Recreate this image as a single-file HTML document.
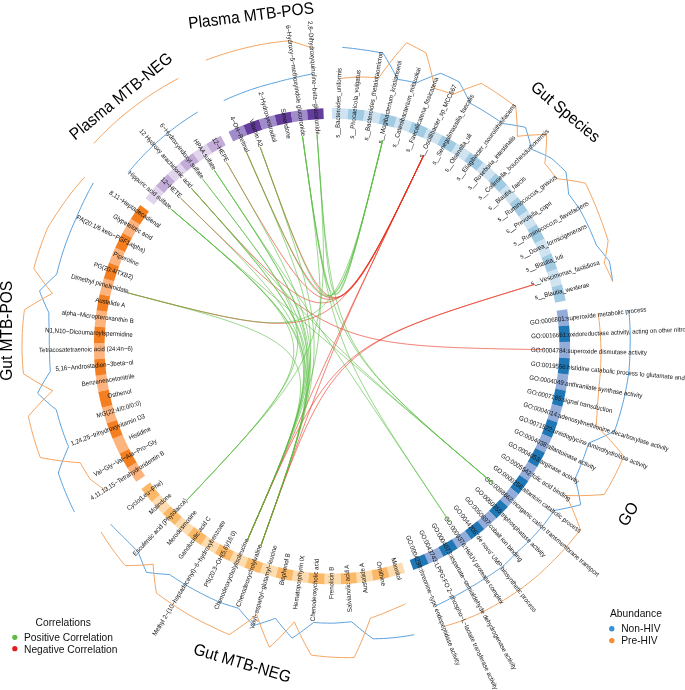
<!DOCTYPE html>
<html><head><meta charset="utf-8"><style>
html,body{margin:0;padding:0;background:#fff;}
svg{display:block;will-change:transform;}
text{font-family:"Liberation Sans",sans-serif;}
</style></head><body>
<svg width="685" height="690" viewBox="0 0 685 690">
<rect width="685" height="690" fill="#fff"/>
<g><path d="M332.00,108.10A238.1,238.1 0 0 1 348.48,108.67L347.74,119.35A227.4,227.4 0 0 0 332.00,118.80Z" fill="#cfe3f0"/><path d="M348.31,108.66A238.1,238.1 0 0 1 364.79,110.37L363.32,120.97A227.4,227.4 0 0 0 347.58,119.33Z" fill="#a1cae3"/><path d="M364.63,110.35A238.1,238.1 0 0 1 380.95,113.19L378.75,123.66A227.4,227.4 0 0 0 363.16,120.95Z" fill="#cfe3f0"/><path d="M380.79,113.15A238.1,238.1 0 0 1 396.88,117.11L393.96,127.40A227.4,227.4 0 0 0 378.60,123.63Z" fill="#a1cae3"/><path d="M396.72,117.06A238.1,238.1 0 0 1 412.50,122.12L408.88,132.19A227.4,227.4 0 0 0 393.81,127.36Z" fill="#cfe3f0"/><path d="M412.34,122.06A238.1,238.1 0 0 1 427.73,128.19L423.43,137.99A227.4,227.4 0 0 0 408.73,132.14Z" fill="#a1cae3"/><path d="M427.58,128.13A238.1,238.1 0 0 1 442.52,135.30L437.55,144.78A227.4,227.4 0 0 0 423.29,137.93Z" fill="#cfe3f0"/><path d="M442.37,135.23A238.1,238.1 0 0 1 456.78,143.41L451.17,152.53A227.4,227.4 0 0 0 437.41,144.71Z" fill="#a1cae3"/><path d="M456.63,143.33A238.1,238.1 0 0 1 470.44,152.48L464.22,161.19A227.4,227.4 0 0 0 451.03,152.44Z" fill="#cfe3f0"/><path d="M470.31,152.39A238.1,238.1 0 0 1 483.45,162.48L476.64,170.73A227.4,227.4 0 0 0 464.09,161.10Z" fill="#a1cae3"/><path d="M483.32,162.37A238.1,238.1 0 0 1 495.74,173.34L488.38,181.11A227.4,227.4 0 0 0 476.52,170.63Z" fill="#cfe3f0"/><path d="M495.62,173.23A238.1,238.1 0 0 1 507.25,185.02L499.38,192.27A227.4,227.4 0 0 0 488.27,181.00Z" fill="#a1cae3"/><path d="M507.14,184.90A238.1,238.1 0 0 1 517.93,197.47L509.58,204.16A227.4,227.4 0 0 0 499.27,192.15Z" fill="#cfe3f0"/><path d="M517.83,197.34A238.1,238.1 0 0 1 527.73,210.63L518.94,216.72A227.4,227.4 0 0 0 509.48,204.03Z" fill="#a1cae3"/><path d="M527.64,210.49A238.1,238.1 0 0 1 536.60,224.43L527.41,229.90A227.4,227.4 0 0 0 518.85,216.59Z" fill="#cfe3f0"/><path d="M536.52,224.28A238.1,238.1 0 0 1 544.50,238.80L534.95,243.63A227.4,227.4 0 0 0 527.33,229.76Z" fill="#a1cae3"/><path d="M544.43,238.65A238.1,238.1 0 0 1 551.39,253.69L541.53,257.84A227.4,227.4 0 0 0 534.88,243.49Z" fill="#cfe3f0"/><path d="M551.33,253.53A238.1,238.1 0 0 1 557.24,269.01L547.12,272.48A227.4,227.4 0 0 0 541.47,257.70Z" fill="#a1cae3"/><path d="M557.19,268.86A238.1,238.1 0 0 1 562.02,284.70L551.68,287.47A227.4,227.4 0 0 0 547.07,272.33Z" fill="#cfe3f0"/><path d="M561.98,284.54A238.1,238.1 0 0 1 565.69,300.61L555.19,302.65A227.4,227.4 0 0 0 551.64,287.31Z" fill="#a1cae3"/><path d="M567.21,309.20A238.1,238.1 0 0 1 569.20,325.56L558.54,326.49A227.4,227.4 0 0 0 556.64,310.86Z" fill="#93acd9"/><path d="M569.19,325.40A238.1,238.1 0 0 1 570.06,341.94L559.36,342.14A227.4,227.4 0 0 0 558.53,326.33Z" fill="#1f77b5"/><path d="M570.06,341.78A238.1,238.1 0 0 1 569.79,358.35L559.10,357.80A227.4,227.4 0 0 0 559.36,341.98Z" fill="#93acd9"/><path d="M569.80,358.18A238.1,238.1 0 0 1 568.39,374.69L557.77,373.41A227.4,227.4 0 0 0 559.11,357.64Z" fill="#1f77b5"/><path d="M568.41,374.52A238.1,238.1 0 0 1 565.87,390.90L555.36,388.89A227.4,227.4 0 0 0 557.79,373.25Z" fill="#93acd9"/><path d="M565.90,390.73A238.1,238.1 0 0 1 562.23,406.89L551.89,404.17A227.4,227.4 0 0 0 555.39,388.73Z" fill="#1f77b5"/><path d="M562.28,406.73A238.1,238.1 0 0 1 557.51,422.60L547.38,419.17A227.4,227.4 0 0 0 551.93,404.01Z" fill="#93acd9"/><path d="M557.56,422.44A238.1,238.1 0 0 1 551.71,437.95L541.84,433.82A227.4,227.4 0 0 0 547.43,419.02Z" fill="#1f77b5"/><path d="M551.78,437.79A238.1,238.1 0 0 1 544.88,452.86L535.31,448.06A227.4,227.4 0 0 0 541.90,433.68Z" fill="#93acd9"/><path d="M544.95,452.71A238.1,238.1 0 0 1 537.03,467.26L527.81,461.82A227.4,227.4 0 0 0 535.38,447.92Z" fill="#1f77b5"/><path d="M537.11,467.12A238.1,238.1 0 0 1 528.21,481.09L519.39,475.03A227.4,227.4 0 0 0 527.89,461.68Z" fill="#93acd9"/><path d="M528.30,480.95A238.1,238.1 0 0 1 518.45,494.28L510.07,487.62A227.4,227.4 0 0 0 519.48,474.90Z" fill="#1f77b5"/><path d="M518.56,494.15A238.1,238.1 0 0 1 507.82,506.76L499.91,499.55A227.4,227.4 0 0 0 510.17,487.50Z" fill="#93acd9"/><path d="M507.93,506.64A238.1,238.1 0 0 1 496.34,518.49L488.96,510.75A227.4,227.4 0 0 0 500.02,499.43Z" fill="#1f77b5"/><path d="M496.46,518.37A238.1,238.1 0 0 1 484.09,529.39L477.26,521.16A227.4,227.4 0 0 0 489.07,510.64Z" fill="#93acd9"/><path d="M484.22,529.29A238.1,238.1 0 0 1 471.12,539.43L464.86,530.75A227.4,227.4 0 0 0 477.38,521.06Z" fill="#1f77b5"/><path d="M471.25,539.33A238.1,238.1 0 0 1 457.48,548.55L451.84,539.46A227.4,227.4 0 0 0 464.99,530.65Z" fill="#93acd9"/><path d="M457.62,548.46A238.1,238.1 0 0 1 443.25,556.71L438.25,547.25A227.4,227.4 0 0 0 451.98,539.37Z" fill="#1f77b5"/><path d="M443.40,556.63A238.1,238.1 0 0 1 428.49,563.87L424.16,554.09A227.4,227.4 0 0 0 438.39,547.18Z" fill="#93acd9"/><path d="M428.65,563.80A238.1,238.1 0 0 1 413.36,569.97L409.70,559.91A227.4,227.4 0 0 0 424.30,554.02Z" fill="#1f77b5"/><path d="M405.10,572.80A238.1,238.1 0 0 1 389.25,577.32L386.67,566.93A227.4,227.4 0 0 0 401.82,562.62Z" fill="#fddcb0"/><path d="M389.41,577.28A238.1,238.1 0 0 1 373.20,580.71L371.35,570.17A227.4,227.4 0 0 0 386.83,566.89Z" fill="#fbb867"/><path d="M373.36,580.68A238.1,238.1 0 0 1 356.95,582.99L355.83,572.35A227.4,227.4 0 0 0 371.50,570.14Z" fill="#fddcb0"/><path d="M357.12,582.97A238.1,238.1 0 0 1 340.59,584.14L340.21,573.45A227.4,227.4 0 0 0 355.99,572.33Z" fill="#fbb867"/><path d="M340.76,584.14A238.1,238.1 0 0 1 324.19,584.17L324.54,573.48A227.4,227.4 0 0 0 340.36,573.45Z" fill="#fddcb0"/><path d="M324.35,584.18A238.1,238.1 0 0 1 307.82,583.07L308.91,572.42A227.4,227.4 0 0 0 324.70,573.48Z" fill="#fbb867"/><path d="M307.99,583.09A238.1,238.1 0 0 1 291.57,580.84L293.39,570.30A227.4,227.4 0 0 0 309.07,572.44Z" fill="#fddcb0"/><path d="M291.74,580.87A238.1,238.1 0 0 1 275.51,577.50L278.05,567.11A227.4,227.4 0 0 0 293.54,570.32Z" fill="#fbb867"/><path d="M275.67,577.54A238.1,238.1 0 0 1 259.72,573.06L262.97,562.87A227.4,227.4 0 0 0 278.20,567.15Z" fill="#fddcb0"/><path d="M259.88,573.11A238.1,238.1 0 0 1 244.27,567.55L248.21,557.60A227.4,227.4 0 0 0 263.12,562.92Z" fill="#fbb867"/><path d="M244.43,567.61A238.1,238.1 0 0 1 229.24,560.98L233.86,551.33A227.4,227.4 0 0 0 248.36,557.66Z" fill="#fddcb0"/><path d="M229.39,561.06A238.1,238.1 0 0 1 214.70,553.40L219.97,544.09A227.4,227.4 0 0 0 234.00,551.40Z" fill="#fbb867"/><path d="M214.84,553.48A238.1,238.1 0 0 1 200.71,544.83L206.61,535.90A227.4,227.4 0 0 0 220.11,544.17Z" fill="#fddcb0"/><path d="M200.85,544.92A238.1,238.1 0 0 1 187.34,535.32L193.84,526.82A227.4,227.4 0 0 0 206.74,535.99Z" fill="#fbb867"/><path d="M187.48,535.42A238.1,238.1 0 0 1 174.67,524.91L181.74,516.88A227.4,227.4 0 0 0 193.97,526.92Z" fill="#fddcb0"/><path d="M174.79,525.02A238.1,238.1 0 0 1 162.74,513.65L170.34,506.13A227.4,227.4 0 0 0 181.86,516.99Z" fill="#fbb867"/><path d="M162.85,513.77A238.1,238.1 0 0 1 151.61,501.60L159.71,494.62A227.4,227.4 0 0 0 170.45,506.24Z" fill="#fddcb0"/><path d="M151.72,501.73A238.1,238.1 0 0 1 141.39,488.88L149.95,482.47A227.4,227.4 0 0 0 159.82,494.74Z" fill="#fbb867"/><path d="M136.29,481.80A238.1,238.1 0 0 1 127.37,467.93L136.57,462.46A227.4,227.4 0 0 0 145.08,475.71Z" fill="#fcb37d"/><path d="M127.46,468.07A238.1,238.1 0 0 1 119.48,453.55L129.03,448.73A227.4,227.4 0 0 0 136.65,462.60Z" fill="#f47f20"/><path d="M119.55,453.70A238.1,238.1 0 0 1 112.59,438.67L122.45,434.51A227.4,227.4 0 0 0 129.10,448.87Z" fill="#fcb37d"/><path d="M112.65,438.82A238.1,238.1 0 0 1 106.74,423.34L116.87,419.87A227.4,227.4 0 0 0 122.51,434.66Z" fill="#f47f20"/><path d="M106.80,423.50A238.1,238.1 0 0 1 101.97,407.65L112.30,404.89A227.4,227.4 0 0 0 116.92,420.02Z" fill="#fcb37d"/><path d="M102.01,407.81A238.1,238.1 0 0 1 98.28,391.66L108.78,389.62A227.4,227.4 0 0 0 112.34,405.04Z" fill="#f47f20"/><path d="M98.31,391.83A238.1,238.1 0 0 1 95.71,375.46L106.32,374.15A227.4,227.4 0 0 0 108.81,389.78Z" fill="#fcb37d"/><path d="M95.73,375.63A238.1,238.1 0 0 1 94.25,359.13L104.94,358.55A227.4,227.4 0 0 0 106.34,374.31Z" fill="#f47f20"/><path d="M94.26,359.29A238.1,238.1 0 0 1 93.93,342.73L104.62,342.88A227.4,227.4 0 0 0 104.94,358.70Z" fill="#fcb37d"/><path d="M93.92,342.89A238.1,238.1 0 0 1 94.73,326.34L105.39,327.23A227.4,227.4 0 0 0 104.62,343.04Z" fill="#f47f20"/><path d="M94.72,326.51A238.1,238.1 0 0 1 96.66,310.05L107.24,311.68A227.4,227.4 0 0 0 105.38,327.39Z" fill="#fcb37d"/><path d="M96.63,310.22A238.1,238.1 0 0 1 99.71,293.94L110.15,296.28A227.4,227.4 0 0 0 107.21,311.83Z" fill="#f47f20"/><path d="M99.67,294.10A238.1,238.1 0 0 1 103.86,278.07L114.11,281.13A227.4,227.4 0 0 0 110.11,296.44Z" fill="#fcb37d"/><path d="M103.81,278.23A238.1,238.1 0 0 1 109.09,262.52L119.11,266.28A227.4,227.4 0 0 0 114.06,281.28Z" fill="#f47f20"/><path d="M109.03,262.68A238.1,238.1 0 0 1 115.38,247.37L125.11,251.81A227.4,227.4 0 0 0 119.05,266.43Z" fill="#fcb37d"/><path d="M115.31,247.52A238.1,238.1 0 0 1 122.70,232.69L132.10,237.79A227.4,227.4 0 0 0 125.05,251.96Z" fill="#f47f20"/><path d="M122.62,232.84A238.1,238.1 0 0 1 131.01,218.55L140.04,224.29A227.4,227.4 0 0 0 132.03,237.93Z" fill="#fcb37d"/><path d="M130.92,218.69A238.1,238.1 0 0 1 140.23,205.08L148.84,211.42A227.4,227.4 0 0 0 139.96,224.42Z" fill="#f47f20"/><path d="M145.53,198.15A238.1,238.1 0 0 1 156.22,185.60L164.12,192.82A227.4,227.4 0 0 0 153.91,204.80Z" fill="#e0d5ec"/><path d="M156.11,185.72A238.1,238.1 0 0 1 167.69,173.88L175.08,181.62A227.4,227.4 0 0 0 164.01,192.93Z" fill="#c4acd9"/><path d="M167.57,173.99A238.1,238.1 0 0 1 179.95,162.97L186.78,171.21A227.4,227.4 0 0 0 174.96,181.73Z" fill="#e0d5ec"/><path d="M179.82,163.08A238.1,238.1 0 0 1 192.92,152.94L199.17,161.62A227.4,227.4 0 0 0 186.66,171.31Z" fill="#c4acd9"/><path d="M192.79,153.04A238.1,238.1 0 0 1 206.56,143.82L212.20,152.92A227.4,227.4 0 0 0 199.05,161.72Z" fill="#e0d5ec"/><path d="M206.42,143.91A238.1,238.1 0 0 1 220.72,135.71L225.72,145.16A227.4,227.4 0 0 0 212.06,153.00Z" fill="#c4acd9"/><path d="M228.51,131.77A238.1,238.1 0 0 1 243.59,125.12L247.57,135.06A227.4,227.4 0 0 0 233.16,141.41Z" fill="#a08ccb"/><path d="M243.44,125.18A238.1,238.1 0 0 1 259.02,119.56L262.30,129.74A227.4,227.4 0 0 0 247.42,135.12Z" fill="#643c9c"/><path d="M258.87,119.61A238.1,238.1 0 0 1 274.80,115.07L277.37,125.46A227.4,227.4 0 0 0 262.15,129.79Z" fill="#a08ccb"/><path d="M274.64,115.11A238.1,238.1 0 0 1 290.85,111.68L292.70,122.22A227.4,227.4 0 0 0 277.22,125.50Z" fill="#643c9c"/><path d="M290.69,111.71A238.1,238.1 0 0 1 307.10,109.41L308.21,120.05A227.4,227.4 0 0 0 292.54,122.25Z" fill="#a08ccb"/><path d="M306.93,109.42A238.1,238.1 0 0 1 323.37,108.26L323.76,118.95A227.4,227.4 0 0 0 308.06,120.06Z" fill="#643c9c"/><path d="M342.30,47.38 L344.87,47.60 L347.43,47.85 L349.99,48.12 L352.55,48.41 L355.11,48.72 L357.66,49.06 L360.20,49.41 L362.75,49.79 L365.29,50.14 L367.83,50.51 L370.36,50.91 L372.90,51.32 L375.42,51.76 L377.95,52.22 L380.47,52.70 L382.98,53.20 L384.99,56.43 L386.95,59.67 L388.86,62.93 L390.72,66.19 L392.53,69.47 L394.28,72.75 L395.98,76.05 L397.63,79.35 L399.98,79.72 L402.33,80.11 L404.67,80.52 L407.02,80.95 L409.36,81.41 L411.70,81.88 L414.03,82.37 L416.37,82.89 L419.31,81.58 L422.27,80.31 L425.27,79.06 L428.29,77.85 L431.34,76.68 L434.42,75.53 L437.53,74.42 L440.66,73.34 L442.99,74.33 L445.31,75.34 L447.62,76.38 L449.92,77.43 L452.21,78.50 L454.49,79.59 L456.76,80.70 L459.02,81.83 L460.53,84.48 L462.00,87.14 L463.44,89.80 L464.85,92.47 L466.21,95.15 L467.55,97.83 L468.84,100.51 L470.10,103.20 L472.22,104.34 L474.33,105.51 L476.43,106.69 L478.52,107.89 L480.60,109.11 L482.67,110.34 L484.73,111.60 L486.78,112.87 L488.82,114.15 L490.86,115.45 L492.88,116.76 L494.90,118.09 L496.90,119.45 L498.89,120.81 L500.87,122.20 L502.84,123.60 L505.64,123.95 L508.44,124.33 L511.25,124.74 L514.06,125.18 L516.88,125.66 L519.71,126.16 L522.54,126.70 L525.38,127.27 L526.28,130.04 L527.14,132.80 L527.98,135.56 L528.78,138.31 L529.55,141.07 L530.29,143.82 L530.99,146.58 L531.66,149.32 L534.10,150.32 L536.54,151.34 L538.98,152.39 L541.41,153.47 L543.84,154.58 L546.27,155.71 L548.69,156.88 L551.11,158.07 L553.00,159.73 L554.88,161.40 L556.74,163.10 L558.60,164.82 L560.43,166.55 L562.26,168.31 L564.07,170.08 L565.87,171.86 L566.32,174.65 L566.73,177.44 L567.11,180.21 L567.46,182.99 L567.79,185.75 L568.08,188.51 L568.34,191.26 L568.57,194.01 L570.06,195.94 L571.52,197.88 L572.97,199.84 L574.41,201.81 L575.82,203.80 L577.23,205.80 L578.61,207.81 L579.98,209.84 L581.15,211.98 L582.29,214.13 L583.42,216.29 L584.53,218.46 L585.62,220.64 L586.69,222.83 L587.75,225.03 L588.78,227.24 L589.80,229.45 L590.79,231.68 L591.77,233.91 L592.73,236.15 L593.66,238.40 L594.58,240.66 L595.48,242.92 L596.36,245.20 L598.04,247.17 L599.71,249.17 L601.36,251.19 L603.00,253.23 L604.62,255.29 L606.22,257.37 L607.81,259.47 L609.38,261.60 L609.86,264.06 L610.32,266.52 L610.76,268.99 L611.17,271.46 L611.56,273.93 L611.93,276.40 L612.28,278.87 L612.60,281.35" fill="none" stroke="#5aa1dd" stroke-width="1" stroke-linejoin="round"/><path d="M341.23,78.36 L343.55,78.11 L345.88,77.88 L348.21,77.68 L350.55,77.49 L352.88,77.32 L355.23,77.18 L357.58,77.05 L359.93,76.94 L362.27,77.00 L364.61,77.07 L366.95,77.16 L369.30,77.27 L371.64,77.41 L373.99,77.56 L376.33,77.74 L378.68,77.93 L381.89,73.41 L385.18,68.93 L388.55,64.48 L392.00,60.07 L395.54,55.70 L399.15,51.38 L402.84,47.09 L406.61,42.84 L409.09,44.03 L411.55,45.23 L413.99,46.46 L416.42,47.71 L418.83,48.97 L421.23,50.26 L423.61,51.56 L425.98,52.89 L427.30,57.34 L428.56,61.79 L429.74,66.25 L430.86,70.70 L431.91,75.15 L432.88,79.60 L433.79,84.04 L434.63,88.48 L436.94,89.16 L439.24,89.85 L441.54,90.57 L443.83,91.30 L446.12,92.06 L448.40,92.83 L450.68,93.63 L452.95,94.45 L456.39,92.92 L459.85,91.43 L463.35,89.98 L466.89,88.58 L470.46,87.21 L474.06,85.89 L477.70,84.61 L481.36,83.38 L483.60,84.71 L485.83,86.05 L488.05,87.42 L490.25,88.81 L492.44,90.21 L494.62,91.63 L496.79,93.08 L498.94,94.54 L501.09,96.00 L503.22,97.49 L505.34,98.99 L507.45,100.52 L509.55,102.06 L511.63,103.62 L513.70,105.19 L515.75,106.79 L516.13,110.52 L516.45,114.25 L516.73,117.97 L516.96,121.67 L517.13,125.36 L517.26,129.04 L517.34,132.70 L517.37,136.34 L520.96,135.95 L524.58,135.60 L528.22,135.30 L531.87,135.05 L535.55,134.84 L539.24,134.68 L542.95,134.57 L546.68,134.51 L546.61,138.19 L546.50,141.86 L546.33,145.51 L546.12,149.14 L545.86,152.75 L545.56,156.35 L545.21,159.92 L544.82,163.47 L546.36,165.33 L547.89,167.20 L549.41,169.08 L550.91,170.97 L552.39,172.88 L553.85,174.80 L555.30,176.73 L556.73,178.68 L560.28,179.07 L563.85,179.51 L567.42,180.00 L571.00,180.54 L574.59,181.12 L578.18,181.76 L581.78,182.45 L585.39,183.19 L586.55,185.53 L587.68,187.88 L588.78,190.24 L589.87,192.60 L590.94,194.97 L591.98,197.35 L593.00,199.74 L594.00,202.13 L595.01,204.51 L596.00,206.90 L596.97,209.29 L597.92,211.69 L598.84,214.10 L599.74,216.51 L600.62,218.93 L601.48,221.35 L602.39,223.75 L603.27,226.15 L604.14,228.56 L604.98,230.98 L605.80,233.40 L606.60,235.83 L607.38,238.26 L608.13,240.70 L607.74,243.56 L607.32,246.41 L606.88,249.24 L606.40,252.06 L605.90,254.86 L605.37,257.65 L604.81,260.42 L604.22,263.17 L605.33,265.40 L606.43,267.64 L607.50,269.89 L608.56,272.16 L609.60,274.44 L610.62,276.73 L611.62,279.03 L612.60,281.35" fill="none" stroke="#f6a45f" stroke-width="1" stroke-linejoin="round"/><path d="M628.79,309.94 L629.03,312.50 L629.25,315.07 L629.44,317.64 L629.62,320.20 L629.77,322.77 L629.90,325.34 L630.00,327.91 L630.09,330.48 L630.15,333.05 L630.19,335.63 L630.21,338.20 L630.20,340.77 L630.17,343.34 L630.12,345.90 L630.05,348.47 L629.96,351.04 L629.91,353.60 L629.83,356.17 L629.74,358.73 L629.62,361.30 L629.48,363.86 L629.31,366.42 L629.13,368.98 L628.92,371.54 L628.57,374.08 L628.19,376.63 L627.79,379.16 L627.38,381.69 L626.93,384.22 L626.47,386.74 L625.99,389.26 L625.48,391.77 L624.96,394.28 L624.41,396.78 L623.84,399.27 L623.25,401.76 L622.64,404.24 L622.00,406.72 L621.35,409.19 L620.67,411.65 L619.98,414.10 L619.26,416.55 L618.52,418.99 L617.76,421.42 L616.99,423.85 L616.19,426.27 L615.37,428.68 L614.53,431.08 L611.31,432.74 L608.09,434.36 L604.86,435.93 L601.63,437.44 L598.39,438.91 L595.15,440.33 L591.90,441.70 L588.64,443.02 L587.94,445.28 L587.22,447.54 L586.47,449.79 L585.71,452.04 L584.93,454.28 L584.12,456.51 L583.30,458.74 L582.46,460.96 L581.61,463.19 L580.74,465.40 L579.85,467.61 L578.94,469.81 L578.01,472.01 L577.06,474.20 L576.09,476.38 L575.10,478.56 L575.93,481.75 L576.72,484.96 L577.48,488.19 L578.20,491.45 L578.87,494.73 L579.51,498.04 L580.12,501.36 L580.68,504.71 L577.35,505.58 L574.03,506.40 L570.72,507.18 L567.40,507.92 L564.10,508.60 L560.80,509.25 L557.50,509.85 L554.21,510.40 L552.86,512.36 L551.49,514.31 L550.10,516.25 L548.70,518.18 L547.28,520.09 L545.84,522.00 L544.39,523.89 L542.91,525.77 L541.36,527.58 L539.79,529.37 L538.20,531.16 L536.60,532.92 L534.99,534.68 L533.36,536.42 L531.71,538.15 L530.05,539.86 L528.38,541.56 L526.69,543.24 L524.98,544.91 L523.26,546.57 L521.53,548.21 L519.78,549.83 L518.02,551.44 L516.25,553.04 L514.59,554.77 L512.92,556.48 L511.23,558.19 L509.52,559.88 L507.80,561.55 L506.07,563.22 L504.32,564.86 L502.55,566.50 L500.60,567.90 L498.64,569.28 L496.67,570.65 L494.68,572.00 L492.69,573.33 L490.68,574.64 L488.67,575.94 L486.64,577.22 L484.65,578.54 L482.64,579.85 L480.62,581.14 L478.59,582.41 L476.55,583.66 L474.50,584.90 L472.44,586.12 L470.37,587.32 L468.32,588.56 L466.26,589.78 L464.18,590.98 L462.10,592.16 L460.00,593.33 L457.90,594.48 L455.78,595.61 L453.66,596.72 L451.55,597.87 L449.43,599.01 L447.30,600.12 L445.16,601.22 L443.01,602.30 L440.85,603.36 L438.68,604.41 L436.49,605.43" fill="none" stroke="#5aa1dd" stroke-width="1" stroke-linejoin="round"/><path d="M598.22,313.67 L598.53,315.96 L598.82,318.26 L599.08,320.55 L599.33,322.85 L599.56,325.15 L599.77,327.45 L599.96,329.76 L600.13,332.06 L600.30,334.37 L600.46,336.68 L600.59,338.99 L600.71,341.30 L600.80,343.62 L600.87,345.93 L600.93,348.25 L600.96,350.57 L600.98,352.88 L600.97,355.20 L600.95,357.52 L600.90,359.84 L600.84,362.16 L600.75,364.48 L600.65,366.80 L600.52,369.12 L600.38,371.43 L600.21,373.75 L600.03,376.07 L599.82,378.38 L599.60,380.70 L599.35,383.01 L599.09,385.32 L598.80,387.63 L598.68,389.96 L598.54,392.30 L598.38,394.64 L598.20,396.98 L598.00,399.32 L597.78,401.66 L597.53,404.00 L597.27,406.34 L597.20,408.73 L597.12,411.13 L597.01,413.53 L596.88,415.93 L596.72,418.33 L596.55,420.74 L596.35,423.14 L596.14,425.56 L599.74,429.16 L603.30,432.83 L606.82,436.57 L610.30,440.38 L613.73,444.25 L617.11,448.19 L620.44,452.19 L623.73,456.26 L622.68,458.73 L621.60,461.20 L620.51,463.65 L619.40,466.09 L618.26,468.52 L617.10,470.94 L615.93,473.35 L614.73,475.75 L613.49,478.13 L612.23,480.50 L610.95,482.85 L609.65,485.19 L608.34,487.52 L607.00,489.84 L605.64,492.14 L604.26,494.43 L599.46,494.82 L594.67,495.13 L589.89,495.37 L585.13,495.54 L580.38,495.64 L575.66,495.67 L570.95,495.63 L566.26,495.52 L568.21,499.64 L570.11,503.81 L571.96,508.02 L573.75,512.28 L575.49,516.57 L577.17,520.91 L578.79,525.29 L580.35,529.72 L578.73,531.83 L577.10,533.92 L575.44,536.00 L573.77,538.07 L572.08,540.12 L570.37,542.16 L568.64,544.18 L566.90,546.19 L565.14,548.18 L563.36,550.15 L561.57,552.11 L559.76,554.06 L557.93,555.99 L556.09,557.90 L554.23,559.79 L552.36,561.67 L550.48,563.55 L548.58,565.40 L546.67,567.24 L544.74,569.07 L542.79,570.87 L540.83,572.66 L538.86,574.43 L536.87,576.19 L534.84,577.89 L532.79,579.59 L530.74,581.26 L528.66,582.91 L526.58,584.55 L524.48,586.17 L522.37,587.77 L520.24,589.35 L518.06,590.86 L515.87,592.36 L513.67,593.83 L511.46,595.28 L509.24,596.72 L507.00,598.13 L504.75,599.53 L502.50,600.90 L500.23,602.26 L497.95,603.59 L495.66,604.91 L493.36,606.20 L491.05,607.47 L488.73,608.73 L486.40,609.96 L484.06,611.17 L481.68,612.31 L479.29,613.42 L476.89,614.52 L474.49,615.59 L472.08,616.64 L469.66,617.67 L467.23,618.67 L464.80,619.66 L462.32,620.56 L459.85,621.43 L457.36,622.28 L454.87,623.11 L452.38,623.92 L449.88,624.71 L447.38,625.47 L444.87,626.21" fill="none" stroke="#f6a45f" stroke-width="1" stroke-linejoin="round"/><path d="M414.22,634.71 L411.66,635.17 L409.11,635.60 L406.55,636.02 L403.99,636.40 L401.43,636.77 L398.87,637.11 L396.31,637.43 L393.74,637.73 L391.17,637.95 L388.59,638.14 L386.02,638.31 L383.45,638.46 L380.88,638.58 L378.31,638.68 L375.74,638.76 L373.18,638.82 L370.34,636.77 L367.54,634.69 L364.78,632.59 L362.06,630.47 L359.38,628.31 L356.73,626.13 L354.13,623.93 L351.56,621.71 L349.20,621.96 L346.83,622.20 L344.45,622.42 L342.08,622.62 L339.70,622.79 L337.32,622.95 L334.94,623.08 L332.55,623.20 L330.17,623.18 L327.78,623.14 L325.40,623.08 L323.01,623.00 L320.63,622.90 L318.25,622.78 L315.86,622.64 L313.48,622.48 L310.94,624.52 L308.36,626.53 L305.74,628.52 L303.08,630.48 L300.39,632.42 L297.67,634.34 L294.91,636.22 L292.11,638.09 L289.90,635.67 L287.72,633.23 L285.59,630.78 L283.49,628.31 L281.44,625.83 L279.42,623.33 L277.44,620.82 L275.50,618.30 L272.84,619.28 L270.16,620.23 L267.45,621.16 L264.73,622.07 L261.99,622.94 L259.22,623.79 L256.44,624.62 L253.63,625.41 L251.64,623.31 L249.68,621.19 L247.75,619.06 L245.85,616.92 L243.98,614.77 L242.14,612.60 L240.34,610.43 L238.56,608.24 L236.24,607.59 L233.94,606.92 L231.63,606.23 L229.33,605.51 L227.03,604.78 L224.74,604.03 L222.46,603.26 L220.18,602.47 L217.97,601.50 L215.77,600.52 L213.58,599.53 L211.40,598.51 L209.22,597.47 L207.06,596.41 L204.90,595.34 L202.75,594.25 L200.61,593.15 L198.48,592.03 L196.35,590.89 L194.24,589.74 L192.13,588.56 L190.04,587.37 L187.95,586.16 L185.88,584.93 L183.81,583.69 L181.75,582.44 L179.70,581.17 L177.66,579.88 L175.63,578.57 L173.61,577.25 L171.61,575.91 L169.61,574.55 L166.75,574.39 L163.88,574.19 L161.00,573.96 L158.11,573.70 L155.21,573.41 L152.31,573.09 L149.40,572.73 L146.48,572.33 L145.34,569.77 L144.23,567.20 L143.15,564.63 L142.10,562.06 L141.08,559.48 L140.09,556.90 L139.13,554.33 L138.21,551.75 L136.43,550.08 L134.68,548.40 L132.93,546.70 L131.21,544.99 L129.49,543.26 L127.79,541.52 L126.11,539.76 L124.44,537.99 L122.66,536.32 L120.89,534.63 L119.13,532.93 L117.39,531.21 L115.66,529.48 L113.95,527.73 L112.25,525.96 L110.56,524.18" fill="none" stroke="#5aa1dd" stroke-width="1" stroke-linejoin="round"/><path d="M405.42,603.84 L403.30,604.84 L401.17,605.82 L399.03,606.78 L396.88,607.72 L394.71,608.65 L392.53,609.56 L390.35,610.45 L388.15,611.32 L385.96,612.25 L383.75,613.16 L381.53,614.05 L379.30,614.92 L377.06,615.77 L374.81,616.61 L372.55,617.42 L370.28,618.22 L368.55,623.19 L366.73,628.14 L364.84,633.09 L362.86,638.02 L360.80,642.94 L358.65,647.85 L356.42,652.74 L354.11,657.62 L351.42,657.64 L348.73,657.65 L346.04,657.63 L343.35,657.59 L340.67,657.53 L337.98,657.44 L335.30,657.33 L332.62,657.20 L329.94,657.02 L327.27,656.81 L324.60,656.59 L321.93,656.34 L319.26,656.06 L316.61,655.77 L313.95,655.45 L311.30,655.11 L308.93,651.00 L306.64,646.88 L304.41,642.74 L302.26,638.59 L300.17,634.42 L298.16,630.24 L296.21,626.05 L294.33,621.84 L291.43,625.13 L288.47,628.39 L285.45,631.62 L282.38,634.81 L279.24,637.98 L276.05,641.11 L272.79,644.21 L269.49,647.28 L267.66,643.21 L265.89,639.13 L264.20,635.05 L262.56,630.96 L261.00,626.86 L259.49,622.75 L258.06,618.64 L256.69,614.53 L253.42,617.17 L250.10,619.78 L246.74,622.35 L243.32,624.88 L239.85,627.37 L236.33,629.83 L232.77,632.24 L229.15,634.61 L226.73,633.57 L224.31,632.52 L221.90,631.44 L219.50,630.34 L217.11,629.22 L214.74,628.08 L212.37,626.92 L210.02,625.75 L207.64,624.63 L205.28,623.49 L202.92,622.33 L200.57,621.15 L198.24,619.95 L195.91,618.74 L193.60,617.50 L191.29,616.24 L189.03,614.91 L186.78,613.56 L184.55,612.19 L182.32,610.80 L180.11,609.39 L177.91,607.97 L175.73,606.52 L173.56,605.06 L171.37,603.62 L169.20,602.17 L167.04,600.69 L164.90,599.20 L162.77,597.69 L160.65,596.16 L158.55,594.61 L156.46,593.05 L155.87,589.41 L155.33,585.78 L154.84,582.16 L154.41,578.55 L154.01,574.95 L153.67,571.36 L153.38,567.78 L153.14,564.22 L149.70,564.54 L146.25,564.82 L142.78,565.05 L139.29,565.25 L135.79,565.40 L132.26,565.50 L128.73,565.56 L125.17,565.57 L123.51,563.56 L121.86,561.53 L120.23,559.49 L118.63,557.44 L117.04,555.38 L115.47,553.30 L113.92,551.21 L112.40,549.12 L110.90,547.00 L109.42,544.87 L107.96,542.73 L106.52,540.58 L105.10,538.42 L103.71,536.25 L102.33,534.07 L100.97,531.89" fill="none" stroke="#f6a45f" stroke-width="1" stroke-linejoin="round"/><path d="M74.37,511.86 L73.19,509.49 L72.04,507.10 L70.91,504.71 L69.80,502.30 L68.71,499.89 L67.65,497.48 L66.61,495.06 L65.59,492.63 L64.60,490.18 L63.64,487.73 L62.69,485.28 L61.77,482.82 L60.87,480.35 L60.00,477.88 L59.15,475.41 L58.32,472.93 L59.47,469.55 L60.65,466.21 L61.88,462.90 L63.14,459.61 L64.44,456.36 L65.78,453.14 L67.15,449.95 L68.55,446.79 L67.64,444.54 L66.74,442.28 L65.86,440.01 L65.01,437.74 L64.17,435.45 L63.35,433.16 L62.55,430.86 L61.77,428.56 L61.02,426.24 L60.30,423.92 L59.59,421.59 L58.90,419.25 L58.23,416.91 L57.59,414.56 L56.96,412.21 L56.35,409.85 L53.95,407.89 L51.56,405.89 L49.18,403.85 L46.82,401.78 L44.47,399.67 L42.13,397.53 L39.82,395.34 L37.52,393.13 L39.03,390.30 L40.56,387.51 L42.13,384.74 L43.72,382.01 L45.33,379.30 L46.97,376.63 L48.63,373.98 L50.32,371.37 L50.15,368.94 L50.01,366.51 L49.88,364.08 L49.77,361.64 L49.69,359.21 L49.62,356.78 L49.58,354.34 L49.56,351.91 L49.46,349.48 L49.38,347.04 L49.32,344.61 L49.28,342.17 L49.26,339.74 L49.27,337.30 L49.29,334.86 L49.34,332.42 L49.20,329.98 L49.09,327.52 L49.00,325.07 L48.93,322.61 L48.88,320.15 L48.86,317.68 L48.85,315.22 L48.87,312.75 L47.62,310.12 L46.39,307.46 L45.19,304.78 L44.01,302.07 L42.86,299.34 L41.73,296.59 L40.63,293.81 L39.56,291.02 L41.65,288.82 L43.76,286.65 L45.89,284.52 L48.03,282.41 L50.18,280.34 L52.35,278.30 L54.53,276.30 L56.73,274.32 L57.30,271.94 L57.89,269.56 L58.50,267.18 L59.13,264.81 L59.78,262.45 L60.45,260.09 L61.14,257.73 L61.86,255.38 L62.59,253.04 L63.34,250.70 L64.12,248.37 L64.91,246.04 L65.73,243.72 L66.56,241.41 L67.42,239.10 L68.29,236.81 L69.18,234.51 L70.10,232.23 L71.03,229.95 L71.99,227.68 L72.96,225.42 L73.95,223.17 L74.97,220.92 L76.00,218.69 L76.94,216.40 L77.90,214.12 L78.88,211.85 L79.88,209.59 L80.91,207.33 L81.95,205.08 L83.01,202.84 L84.09,200.60 L85.17,198.36 L86.28,196.13 L87.40,193.91 L88.54,191.69 L89.70,189.49 L90.88,187.29 L92.08,185.10 L93.30,182.92" fill="none" stroke="#5aa1dd" stroke-width="1" stroke-linejoin="round"/><path d="M106.75,491.04 L104.64,489.64 L102.54,488.22 L100.45,486.77 L98.37,485.29 L96.30,483.79 L94.23,482.27 L92.17,480.72 L90.13,479.14 L88.84,477.13 L87.56,475.12 L86.31,473.09 L85.07,471.04 L83.84,468.99 L82.64,466.92 L81.45,464.85 L80.28,462.76 L75.32,462.38 L70.35,461.92 L65.37,461.39 L60.38,460.78 L55.38,460.09 L50.37,459.33 L45.36,458.48 L40.34,457.56 L39.41,455.04 L38.51,452.51 L37.63,449.97 L36.77,447.42 L35.93,444.86 L35.12,442.30 L34.32,439.73 L33.55,437.16 L32.83,434.57 L32.13,431.98 L31.45,429.38 L30.79,426.77 L30.16,424.16 L29.54,421.55 L28.96,418.93 L28.39,416.31 L31.31,412.91 L34.27,409.57 L37.26,406.28 L40.29,403.05 L43.35,399.88 L46.44,396.76 L49.57,393.70 L52.72,390.70 L49.01,388.80 L45.32,386.83 L41.63,384.81 L37.96,382.72 L34.30,380.57 L30.66,378.37 L27.04,376.10 L23.43,373.77 L23.18,371.12 L22.95,368.46 L22.75,365.79 L22.56,363.13 L22.40,360.47 L22.27,357.80 L22.15,355.13 L22.06,352.46 L22.02,349.80 L22.00,347.13 L22.00,344.46 L22.03,341.79 L22.08,339.12 L22.15,336.45 L22.25,333.78 L22.37,331.11 L22.55,328.45 L22.75,325.78 L22.97,323.12 L23.22,320.47 L23.49,317.81 L23.78,315.16 L24.10,312.51 L24.44,309.86 L27.89,307.61 L31.35,305.42 L34.83,303.28 L38.33,301.20 L41.84,299.18 L45.36,297.21 L48.89,295.30 L52.43,293.45 L49.99,290.47 L47.58,287.44 L45.20,284.37 L42.85,281.25 L40.54,278.09 L38.26,274.88 L36.01,271.63 L33.80,268.34 L34.50,265.78 L35.23,263.22 L35.98,260.68 L36.75,258.14 L37.55,255.61 L38.36,253.08 L39.20,250.56 L40.06,248.05 L40.91,245.54 L41.79,243.04 L42.69,240.54 L43.61,238.05 L44.55,235.57 L45.52,233.10 L46.50,230.64 L47.51,228.18 L48.88,225.89 L50.27,223.60 L51.68,221.33 L53.11,219.08 L54.55,216.84 L56.01,214.61 L57.49,212.41 L58.99,210.21 L60.45,208.01 L61.93,205.82 L63.43,203.65 L64.94,201.49 L66.47,199.34 L68.01,197.22 L69.58,195.10 L71.16,193.01 L72.80,190.95 L74.46,188.91 L76.13,186.89 L77.82,184.89 L79.52,182.90 L81.24,180.93 L82.97,178.98 L84.72,177.05" fill="none" stroke="#f6a45f" stroke-width="1" stroke-linejoin="round"/><path d="M128.20,172.62 L129.66,170.83 L131.13,169.05 L132.62,167.29 L134.12,165.53 L135.64,163.79 L137.17,162.07 L138.72,160.35 L140.28,158.65 L141.86,156.96 L143.45,155.29 L145.06,153.63 L146.68,151.98 L148.32,150.34 L149.97,148.72 L151.64,147.11 L153.32,145.52 L155.02,143.95 L156.73,142.40 L158.46,140.86 L160.21,139.33 L161.96,137.82 L163.73,136.33 L165.52,134.85 L167.31,133.38 L169.12,131.93 L170.94,130.49 L172.78,129.07 L174.62,127.67 L176.48,126.28 L178.35,124.91 L180.24,123.55 L182.13,122.21 L184.04,120.89 L185.96,119.58 L187.89,118.29 L189.83,117.01 L191.79,115.75 L193.75,114.51 L195.73,113.29 L197.71,112.08" fill="none" stroke="#5aa1dd" stroke-width="1" stroke-linejoin="round"/><path d="M93.87,143.38 L95.70,141.40 L97.55,139.44 L99.41,137.49 L101.29,135.56 L103.19,133.65 L105.10,131.76 L107.03,129.88 L108.97,128.02 L110.93,126.18 L112.90,124.35 L114.89,122.55 L116.89,120.76 L118.91,118.99 L120.94,117.23 L122.99,115.50 L125.05,113.78 L127.14,112.09 L129.23,110.42 L131.35,108.77 L133.47,107.14 L135.61,105.52 L137.76,103.93 L139.92,102.35 L142.10,100.80 L144.28,99.25 L146.47,97.72 L148.68,96.21 L150.90,94.72 L153.13,93.26 L155.37,91.81 L157.62,90.38 L159.89,88.97 L162.17,87.58 L164.45,86.21 L166.75,84.86 L169.06,83.53 L171.38,82.22 L173.71,80.94 L176.06,79.67 L178.41,78.42" fill="none" stroke="#f6a45f" stroke-width="1" stroke-linejoin="round"/><path d="M223.73,100.61 L225.83,99.64 L227.94,98.69 L230.06,97.75 L232.18,96.84 L234.31,95.94 L236.46,95.06 L238.60,94.20 L240.76,93.36 L242.93,92.53 L245.10,91.73 L247.28,90.94 L249.46,90.17 L251.66,89.43 L253.86,88.70 L256.06,87.98 L258.28,87.29 L260.49,86.61 L262.72,85.94 L264.94,85.29 L267.18,84.66 L269.42,84.05 L271.67,83.46 L273.92,82.89 L276.17,82.34 L278.42,81.71 L280.67,81.10 L282.92,80.51 L285.18,79.93 L287.45,79.38 L289.73,78.85 L292.01,78.33 L294.29,77.84 L296.57,77.27 L298.86,76.73 L301.15,76.21 L303.45,75.70 L305.76,75.22 L308.07,74.75 L310.39,74.31 L312.72,73.88" fill="none" stroke="#5aa1dd" stroke-width="1" stroke-linejoin="round"/><path d="M205.90,60.16 L208.42,59.21 L210.95,58.29 L213.49,57.38 L216.03,56.50 L218.58,55.64 L221.14,54.80 L223.70,53.99 L226.27,53.19 L228.84,52.41 L231.41,51.65 L233.99,50.92 L236.58,50.20 L239.17,49.51 L241.76,48.84 L244.36,48.19 L246.97,47.57 L249.58,46.97 L252.19,46.39 L254.80,45.84 L257.42,45.30 L260.05,44.79 L262.67,44.31 L265.30,43.84 L267.94,43.40 L270.57,43.00 L273.21,42.61 L275.86,42.25 L278.50,41.92 L281.15,41.60 L283.79,41.31 L286.44,41.04 L289.09,40.80 L291.87,41.56 L294.63,42.34 L297.38,43.15 L300.11,43.98 L302.82,44.83 L305.52,45.71 L308.19,46.62 L310.85,47.55" fill="none" stroke="#f6a45f" stroke-width="1" stroke-linejoin="round"/></g>
<g font-size="6.1" fill="#111"><text transform="translate(338.27,137.79) rotate(-88.28) scale(1,1.07)" dy="0.17em">s__Bacteroides_uniformis</text><text transform="translate(352.61,138.72) rotate(-84.33) scale(1,1.07)" dy="0.17em">s__Phocaeicola_vulgatus</text><text transform="translate(366.84,140.63) rotate(-80.38) scale(1,1.07)" dy="0.17em">s__Bacteroides_thetaiotaomicron</text><text transform="translate(380.91,143.52) rotate(-76.43) scale(1,1.07)" dy="0.17em">s__Mogibacterium_kristiansenii</text><text transform="translate(394.75,147.37) rotate(-72.48) scale(1,1.07)" dy="0.17em">s__Catenibacterium_mitsuokai</text><text transform="translate(408.29,152.16) rotate(-68.54) scale(1,1.07)" dy="0.17em">s__Faecalicatena_fissicatena</text><text transform="translate(421.47,157.87) rotate(-64.59) scale(1,1.07)" dy="0.17em">s__Oscillibacter_sp_MCC667</text><text transform="translate(434.23,164.48) rotate(-60.64) scale(1,1.07)" dy="0.17em">s__Senegalimassilia_faecalis</text><text transform="translate(446.50,171.95) rotate(-56.69) scale(1,1.07)" dy="0.17em">s__Olsenella_uli</text><text transform="translate(458.22,180.25) rotate(-52.74) scale(1,1.07)" dy="0.17em">s__Ellagibacter_isourolithinifaciens</text><text transform="translate(469.35,189.33) rotate(-48.80) scale(1,1.07)" dy="0.17em">s__Roseburia_intestinalis</text><text transform="translate(479.82,199.16) rotate(-44.85) scale(1,1.07)" dy="0.17em">s__Collinsella_bouchesdurhonensis</text><text transform="translate(489.60,209.69) rotate(-40.90) scale(1,1.07)" dy="0.17em">s__Blautia_faecis</text><text transform="translate(498.62,220.86) rotate(-36.95) scale(1,1.07)" dy="0.17em">s__Ruminococcus_gnavus</text><text transform="translate(506.85,232.63) rotate(-33.00) scale(1,1.07)" dy="0.17em">s__Prevotella_copri</text><text transform="translate(514.26,244.94) rotate(-29.06) scale(1,1.07)" dy="0.17em">s__Ruminococcus_flavefaciens</text><text transform="translate(520.80,257.73) rotate(-25.11) scale(1,1.07)" dy="0.17em">s__Dorea_formicigenerans</text><text transform="translate(526.44,270.94) rotate(-21.16) scale(1,1.07)" dy="0.17em">s__Blautia_luti</text><text transform="translate(531.16,284.50) rotate(-17.21) scale(1,1.07)" dy="0.17em">s__Vescimonas_fastidiosa</text><text transform="translate(534.94,298.36) rotate(-13.26) scale(1,1.07)" dy="0.17em">s__Blautia_wexlerae</text><text transform="translate(530.21,323.56) rotate(-6.52) scale(1,1.07)" dy="0.17em">GO:0006801:superoxide metabolic process</text><text transform="translate(531.30,337.26) rotate(-2.57) scale(1,1.07)" dy="0.17em">GO:0016661:oxidoreductase activity, acting on other nitrogenous compounds as donors</text><text transform="translate(530.94,350.99) rotate(1.38) scale(1,1.07)" dy="0.17em">GO:0004784:superoxide dismutase activity</text><text transform="translate(530.84,364.74) rotate(5.33) scale(1,1.07)" dy="0.17em">GO:0019556:histidine catabolic process to glutamate and formamide</text><text transform="translate(529.19,378.41) rotate(9.28) scale(1,1.07)" dy="0.17em">GO:0004049:anthranilate synthase activity</text><text transform="translate(527.09,392.04) rotate(13.22) scale(1,1.07)" dy="0.17em">GO:0007165:signal transduction</text><text transform="translate(523.28,405.31) rotate(17.17) scale(1,1.07)" dy="0.17em">GO:0004014:adenosylmethionine decarboxylase activity</text><text transform="translate(518.94,418.41) rotate(21.12) scale(1,1.07)" dy="0.17em">GO:0071522:ureidoglycine aminohydrolase activity</text><text transform="translate(514.34,431.49) rotate(25.07) scale(1,1.07)" dy="0.17em">GO:0004038:allantoinase activity</text><text transform="translate(508.21,443.94) rotate(29.02) scale(1,1.07)" dy="0.17em">GO:0004053:arginase activity</text><text transform="translate(501.06,455.84) rotate(32.96) scale(1,1.07)" dy="0.17em">GO:0005542:folic acid binding</text><text transform="translate(493.51,467.52) rotate(36.91) scale(1,1.07)" dy="0.17em">GO:0000256:allantoin catabolic process</text><text transform="translate(485.00,478.55) rotate(40.86) scale(1,1.07)" dy="0.17em">GO:0098662:inorganic cation transmembrane transport</text><text transform="translate(475.38,488.63) rotate(44.81) scale(1,1.07)" dy="0.17em">GO:0050355:triphosphatase activity</text><text transform="translate(465.24,498.16) rotate(48.76) scale(1,1.07)" dy="0.17em">GO:0050897:cobalt ion binding</text><text transform="translate(454.16,506.58) rotate(52.70) scale(1,1.07)" dy="0.17em">GO:0044205:'de novo' UMP biosynthetic process</text><text transform="translate(444.75,517.53) rotate(56.65) scale(1,1.07)" dy="0.17em">GO:0009376:HslUV protease complex</text><text transform="translate(432.29,524.19) rotate(60.60) scale(1,1.07)" dy="0.17em">GO:0004073:aspartate−semialdehyde dehydrogenase activity</text><text transform="translate(419.93,530.94) rotate(64.55) scale(1,1.07)" dy="0.17em">GO:0043743:LPPG:FO 2−phospho−L−lactate transferase activity</text><text transform="translate(406.78,536.00) rotate(68.50) scale(1,1.07)" dy="0.17em">GO:0004298:threonine−type endopeptidase activity</text><text transform="translate(392.38,558.07) rotate(74.09) scale(1,1.07)" dy="0.17em">Mannitol</text><text transform="translate(377.67,561.82) rotate(78.04) scale(1,1.07)" dy="0.17em">Ornithine</text><text transform="translate(362.47,562.77) rotate(261.99) scale(1,1.07)" dy="0.17em" text-anchor="end">Austalide A</text><text transform="translate(347.52,564.75) rotate(265.94) scale(1,1.07)" dy="0.17em" text-anchor="end">Salvianolic acid A</text><text transform="translate(332.44,566.80) rotate(269.89) scale(1,1.07)" dy="0.17em" text-anchor="end">Frenolicin B</text><text transform="translate(317.76,558.72) rotate(273.83) scale(1,1.07)" dy="0.17em" text-anchor="end">Chenodeoxycholic acid</text><text transform="translate(303.36,555.75) rotate(277.78) scale(1,1.07)" dy="0.17em" text-anchor="end">Hematoporphyrin IX</text><text transform="translate(288.96,553.48) rotate(281.73) scale(1,1.07)" dy="0.17em" text-anchor="end">Bisphenol B</text><text transform="translate(275.98,545.79) rotate(285.68) scale(1,1.07)" dy="0.17em" text-anchor="end">Valyl−aspartyl−glutamyl−leucine</text><text transform="translate(261.10,545.04) rotate(289.63) scale(1,1.07)" dy="0.17em" text-anchor="end">Chenodeoxycholylvaline</text><text transform="translate(247.73,539.32) rotate(293.57) scale(1,1.07)" dy="0.17em" text-anchor="end">Chenodeoxycholylisoleucine</text><text transform="translate(235.47,531.46) rotate(297.52) scale(1,1.07)" dy="0.17em" text-anchor="end">PS(20:3−OH(5,6)/16:0)</text><text transform="translate(224.67,521.56) rotate(301.47) scale(1,1.07)" dy="0.17em" text-anchor="end">Methyl 2−(10−heptadecenyl)−6−hydroxybenzoate</text><text transform="translate(210.07,517.66) rotate(305.42) scale(1,1.07)" dy="0.17em" text-anchor="end">Ganolucidic acid C</text><text transform="translate(196.27,511.65) rotate(309.37) scale(1,1.07)" dy="0.17em" text-anchor="end">Merodesmosine</text><text transform="translate(186.91,500.09) rotate(313.31) scale(1,1.07)" dy="0.17em" text-anchor="end">Esculentic acid (Phytolacca)</text><text transform="translate(171.15,494.82) rotate(317.26) scale(1,1.07)" dy="0.17em" text-anchor="end">Molindone</text><text transform="translate(162.47,482.46) rotate(321.21) scale(1,1.07)" dy="0.17em" text-anchor="end">Cyclo(Leu−Phe)</text><text transform="translate(164.24,453.25) rotate(327.46) scale(1,1.07)" dy="0.17em" text-anchor="end">4,11,13,15−Tetrahydroridentin B</text><text transform="translate(156.83,441.68) rotate(331.41) scale(1,1.07)" dy="0.17em" text-anchor="end">Val−Gly−Val−Ala−Pro−Gly</text><text transform="translate(150.77,429.35) rotate(335.35) scale(1,1.07)" dy="0.17em" text-anchor="end">Histidine</text><text transform="translate(145.10,416.82) rotate(339.30) scale(1,1.07)" dy="0.17em" text-anchor="end">1,24,25−trihydroxyvitamin D3</text><text transform="translate(141.06,403.67) rotate(343.25) scale(1,1.07)" dy="0.17em" text-anchor="end">MG(22:4/0:0/0:0)</text><text transform="translate(131.51,391.76) rotate(347.20) scale(1,1.07)" dy="0.17em" text-anchor="end">Osthenol</text><text transform="translate(134.68,376.94) rotate(351.15) scale(1,1.07)" dy="0.17em" text-anchor="end">Benzeneacetonitrile</text><text transform="translate(133.53,363.24) rotate(355.09) scale(1,1.07)" dy="0.17em" text-anchor="end">5,16−Androstadien−3beta−ol</text><text transform="translate(132.83,349.53) rotate(359.04) scale(1,1.07)" dy="0.17em" text-anchor="end">Tetracosatetraenoic acid (24:4n−6)</text><text transform="translate(132.77,335.79) rotate(362.99) scale(1,1.07)" dy="0.17em" text-anchor="end">N1,N10−Dicoumaroylspermidine</text><text transform="translate(133.56,322.05) rotate(366.94) scale(1,1.07)" dy="0.17em" text-anchor="end">alpha−Micropteroxanthin B</text><text transform="translate(124.99,306.39) rotate(370.89) scale(1,1.07)" dy="0.17em" text-anchor="end">Austalide A</text><text transform="translate(128.42,292.28) rotate(374.83) scale(1,1.07)" dy="0.17em" text-anchor="end">Dimethyl pimelimidate</text><text transform="translate(132.90,278.49) rotate(378.78) scale(1,1.07)" dy="0.17em" text-anchor="end">PG(20:4/TXB2)</text><text transform="translate(138.22,265.02) rotate(382.73) scale(1,1.07)" dy="0.17em" text-anchor="end">Piperoline</text><text transform="translate(144.45,251.96) rotate(386.68) scale(1,1.07)" dy="0.17em" text-anchor="end">PA(20:1/6 keto−PGF1alpha)</text><text transform="translate(151.46,239.32) rotate(390.63) scale(1,1.07)" dy="0.17em" text-anchor="end">Glypetelotic acid</text><text transform="translate(159.33,227.20) rotate(394.57) scale(1,1.07)" dy="0.17em" text-anchor="end">8,11−Heptadecadienal</text><text transform="translate(170.23,208.41) rotate(400.42) scale(1,1.07)" dy="0.17em" text-anchor="end">Hippuric acid sulfate</text><text transform="translate(180.10,197.60) rotate(404.37) scale(1,1.07)" dy="0.17em" text-anchor="end">12−HETE</text><text transform="translate(190.69,187.49) rotate(408.32) scale(1,1.07)" dy="0.17em" text-anchor="end">12 Hydroxy arachidonic acid</text><text transform="translate(201.95,178.14) rotate(412.27) scale(1,1.07)" dy="0.17em" text-anchor="end">6−Hydroxyindoxyl sulfate</text><text transform="translate(213.83,169.59) rotate(416.21) scale(1,1.07)" dy="0.17em" text-anchor="end">HPAA sulfate</text><text transform="translate(226.27,161.87) rotate(420.16) scale(1,1.07)" dy="0.17em" text-anchor="end">12−HEPE</text><text transform="translate(246.48,152.21) rotate(426.21) scale(1,1.07)" dy="0.17em" text-anchor="end">4−OH−Retinal</text><text transform="translate(260.04,146.79) rotate(430.16) scale(1,1.07)" dy="0.17em" text-anchor="end">Vitamin A2</text><text transform="translate(273.94,142.30) rotate(434.11) scale(1,1.07)" dy="0.17em" text-anchor="end">2−Hydroxyestradiol</text><text transform="translate(288.12,138.79) rotate(438.05) scale(1,1.07)" dy="0.17em" text-anchor="end">Simendone</text><text transform="translate(302.50,136.26) rotate(442.00) scale(1,1.07)" dy="0.17em" text-anchor="end">6−Hydroxy−5−methoxyindole glucuronide</text><text transform="translate(317.03,134.73) rotate(445.95) scale(1,1.07)" dy="0.17em" text-anchor="end">2,8−Dihydroxyquinoline−beta−glucuronide</text></g>
<g fill="none" stroke-width="1"><path d="M180.60,198.09C332.0,346.2 332.0,346.2 543.77,349.64" stroke="#e8321e" stroke-opacity="0.5"/><path d="M191.15,188.02C332.0,346.2 332.0,346.2 423.72,155.29" stroke="#e8321e" stroke-opacity="0.5"/><path d="M226.62,162.48C332.0,346.2 332.0,346.2 423.72,155.29" stroke="#e8321e" stroke-opacity="0.5"/><path d="M246.56,152.40C332.0,346.2 332.0,346.2 423.72,155.29" stroke="#e8321e" stroke-opacity="0.5"/><path d="M260.11,146.97C332.0,346.2 332.0,346.2 423.72,155.29" stroke="#e8321e" stroke-opacity="0.5"/><path d="M127.07,292.69C332.0,346.2 332.0,346.2 423.72,155.29" stroke="#e8321e" stroke-opacity="0.5"/><path d="M423.72,155.29C332.0,346.2 332.0,346.2 260.86,545.70" stroke="#e8321e" stroke-opacity="0.5"/><path d="M423.72,155.29C332.0,346.2 332.0,346.2 247.29,540.32" stroke="#e8321e" stroke-opacity="0.5"/><path d="M534.59,284.41C332.0,346.2 332.0,346.2 260.86,545.70" stroke="#e8321e" stroke-opacity="0.5"/><path d="M534.59,284.41C332.0,346.2 332.0,346.2 247.29,540.32" stroke="#e8321e" stroke-opacity="0.5"/><path d="M170.76,208.87C332.0,346.2 332.0,346.2 186.71,500.31" stroke="#5cbf45" stroke-opacity="0.62"/><path d="M170.76,208.87C332.0,346.2 332.0,346.2 247.29,540.32" stroke="#5cbf45" stroke-opacity="0.62"/><path d="M170.76,208.87C332.0,346.2 332.0,346.2 260.86,545.70" stroke="#5cbf45" stroke-opacity="0.62"/><path d="M170.76,208.87C332.0,346.2 332.0,346.2 493.27,483.50" stroke="#5cbf45" stroke-opacity="0.62"/><path d="M180.60,198.09C332.0,346.2 332.0,346.2 247.29,540.32" stroke="#5cbf45" stroke-opacity="0.62"/><path d="M191.15,188.02C332.0,346.2 332.0,346.2 247.29,540.32" stroke="#5cbf45" stroke-opacity="0.62"/><path d="M191.15,188.02C332.0,346.2 332.0,346.2 260.86,545.70" stroke="#5cbf45" stroke-opacity="0.62"/><path d="M191.15,188.02C332.0,346.2 332.0,346.2 493.27,483.50" stroke="#5cbf45" stroke-opacity="0.62"/><path d="M202.38,178.70C332.0,346.2 332.0,346.2 260.86,545.70" stroke="#5cbf45" stroke-opacity="0.62"/><path d="M202.38,178.70C332.0,346.2 332.0,346.2 186.71,500.31" stroke="#5cbf45" stroke-opacity="0.62"/><path d="M214.22,170.17C332.0,346.2 332.0,346.2 247.29,540.32" stroke="#5cbf45" stroke-opacity="0.62"/><path d="M214.22,170.17C332.0,346.2 332.0,346.2 260.86,545.70" stroke="#5cbf45" stroke-opacity="0.62"/><path d="M214.22,170.17C332.0,346.2 332.0,346.2 449.82,522.21" stroke="#5cbf45" stroke-opacity="0.62"/><path d="M226.62,162.48C332.0,346.2 332.0,346.2 260.86,545.70" stroke="#5cbf45" stroke-opacity="0.62"/><path d="M246.56,152.40C332.0,346.2 332.0,346.2 247.29,540.32" stroke="#5cbf45" stroke-opacity="0.62"/><path d="M246.56,152.40C332.0,346.2 332.0,346.2 382.59,140.53" stroke="#5cbf45" stroke-opacity="0.62"/><path d="M260.11,146.97C332.0,346.2 332.0,346.2 260.86,545.70" stroke="#5cbf45" stroke-opacity="0.62"/><path d="M260.11,146.97C332.0,346.2 332.0,346.2 382.59,140.53" stroke="#5cbf45" stroke-opacity="0.62"/><path d="M302.53,136.46C332.0,346.2 332.0,346.2 382.59,140.53" stroke="#5cbf45" stroke-opacity="0.62"/><path d="M302.53,136.46C332.0,346.2 332.0,346.2 247.29,540.32" stroke="#5cbf45" stroke-opacity="0.62"/><path d="M302.53,136.46C332.0,346.2 332.0,346.2 449.82,522.21" stroke="#5cbf45" stroke-opacity="0.62"/><path d="M302.53,136.46C332.0,346.2 332.0,346.2 493.27,483.50" stroke="#5cbf45" stroke-opacity="0.62"/><path d="M317.04,134.93C332.0,346.2 332.0,346.2 382.59,140.53" stroke="#5cbf45" stroke-opacity="0.62"/><path d="M317.04,134.93C332.0,346.2 332.0,346.2 493.27,483.50" stroke="#5cbf45" stroke-opacity="0.62"/><path d="M317.04,134.93C332.0,346.2 332.0,346.2 186.71,500.31" stroke="#5cbf45" stroke-opacity="0.62"/><path d="M127.07,292.69C332.0,346.2 332.0,346.2 382.59,140.53" stroke="#5cbf45" stroke-opacity="0.62"/><path d="M127.07,292.69C332.0,346.2 332.0,346.2 247.29,540.32" stroke="#5cbf45" stroke-opacity="0.62"/><path d="M180.60,198.09C332.0,346.2 332.0,346.2 543.77,349.64" stroke="#e8321e" stroke-opacity="0.15"/><path d="M191.15,188.02C332.0,346.2 332.0,346.2 423.72,155.29" stroke="#e8321e" stroke-opacity="0.15"/><path d="M226.62,162.48C332.0,346.2 332.0,346.2 423.72,155.29" stroke="#e8321e" stroke-opacity="0.15"/><path d="M246.56,152.40C332.0,346.2 332.0,346.2 423.72,155.29" stroke="#e8321e" stroke-opacity="0.15"/><path d="M260.11,146.97C332.0,346.2 332.0,346.2 423.72,155.29" stroke="#e8321e" stroke-opacity="0.15"/><path d="M127.07,292.69C332.0,346.2 332.0,346.2 423.72,155.29" stroke="#e8321e" stroke-opacity="0.15"/><path d="M423.72,155.29C332.0,346.2 332.0,346.2 260.86,545.70" stroke="#e8321e" stroke-opacity="0.15"/><path d="M423.72,155.29C332.0,346.2 332.0,346.2 247.29,540.32" stroke="#e8321e" stroke-opacity="0.15"/><path d="M534.59,284.41C332.0,346.2 332.0,346.2 260.86,545.70" stroke="#e8321e" stroke-opacity="0.15"/><path d="M534.59,284.41C332.0,346.2 332.0,346.2 247.29,540.32" stroke="#e8321e" stroke-opacity="0.15"/></g>
<g font-size="15.5" fill="#000" text-anchor="middle"><text transform="translate(251.00,15.00) rotate(-7.1) scale(1,1.07)" dy="0.36em">Plasma MTB-POS</text><text transform="translate(120.55,95.75) rotate(-39.2) scale(1,1.07)" dy="0.36em">Plasma MTB-NEG</text><text transform="translate(6.40,330.75) rotate(-90) scale(1,1.07)" dy="0.36em">Gut MTB-POS</text><text transform="translate(242.50,662.55) rotate(16.8) scale(1,1.07)" dy="0.36em">Gut MTB-NEG</text><text transform="translate(627.85,513.75) rotate(-59.4) scale(1,1.07)" dy="0.36em">GO</text><text transform="translate(565.90,111.40) rotate(40.0) scale(1,1.07)" dy="0.36em">Gut Species</text></g>
<g font-size="10.25" fill="#111">
<text x="35.6" y="625.5">Correlations</text>
<circle cx="14.8" cy="637.3" r="2.6" fill="#5fba46"/>
<text x="24" y="641.1">Positive Correlation</text>
<circle cx="14.8" cy="648.7" r="2.6" fill="#e41a1c"/>
<text x="24" y="652.5">Negative Correlation</text>
<text x="610" y="617.2">Abundance</text>
<circle cx="611.8" cy="628.8" r="2.7" fill="#3a8fd6"/>
<text x="621.2" y="632.3">Non-HIV</text>
<circle cx="611.8" cy="640.6" r="2.7" fill="#f68b33"/>
<text x="621.2" y="644.1">Pre-HIV</text>
</g>
</svg>
</body></html>
